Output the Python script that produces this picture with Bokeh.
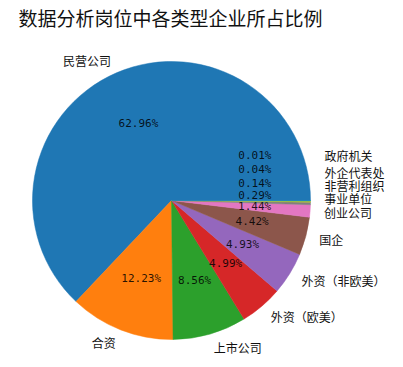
import numpy as np
from bokeh.plotting import figure
from bokeh.models import ColumnDataSource, Range1d
from bokeh.core.properties import value
from bokeh.embed import file_html
from bokeh.resources import INLINE

title_text = "数据分析岗位中各类型企业所占比例"
categories = ["民营公司", "合资", "上市公司", "外资（欧美）", "外资（非欧美）", "国企",
              "创业公司", "事业单位", "非营利组织", "外企代表处", "政府机关"]
shares = [62.96, 12.23, 8.56, 4.99, 4.93, 4.42, 1.44, 0.29, 0.14, 0.04, 0.01]

# style
colors = ["#1f77b4", "#ff7f0e", "#2ca02c", "#d62728", "#9467bd", "#8c564b",
          "#e377c2", "#7f7f7f", "#bcbd22", "#17becf", "#1f77b4"]
label_lift = [0, 0, 0, 0, 0, 0, 0, 5, 16, 28, 45]
pct_lift = [0, 0, 0, 0, 0, 0, 0, 6.5, 17.5, 31, 45]

W, H = 395, 359
CX, CY, R = 171, 167, 139

vals = np.array(shares, dtype=float)
frac = vals / vals.sum()
ends = np.cumsum(frac) * 2 * np.pi
starts = np.concatenate([[0.0], ends[:-1]])
mids = (starts + ends) / 2

wsrc = ColumnDataSource(dict(start=starts, end=ends, color=colors))

lx = CX + 1.1 * R * np.cos(mids)
ly = CY + 1.1 * R * np.sin(mids) + np.array(label_lift)
align = ["left" if np.cos(m) > 0 else "right" for m in mids]
lsrc = ColumnDataSource(dict(x=lx, y=ly, t=categories, a=align))

px = CX + 0.6 * R * np.cos(mids)
py = CY + 0.6 * R * np.sin(mids) + np.array(pct_lift)
ptxt = ["%.2f%%" % v for v in shares]
psrc = ColumnDataSource(dict(x=px, y=py, t=ptxt))

p = figure(width=W, height=H, output_backend="svg", toolbar_location=None,
           x_range=Range1d(0, W), y_range=Range1d(367 - H, 367),
           x_axis_type=None, y_axis_type=None, min_border=0)
p.grid.visible = False
p.outline_line_color = None
p.background_fill_color = "white"
p.border_fill_color = "white"

p.wedge(x=CX, y=CY, radius=R, start_angle="start", end_angle="end",
        fill_color="color", line_color="color", line_width=0.5, source=wsrc)

p.text(x="x", y="y", text="t", text_align="a", text_baseline="middle",
       text_font=value("Noto Sans CJK SC"), text_font_size="12px",
       text_color="#111111", source=lsrc)

p.text(x="x", y="y", text="t", text_align="center", text_baseline="middle",
       text_font=value("DejaVu Sans Mono"), text_font_size="11px",
       text_color="black", text_alpha=0.85, source=psrc)

p.text(x=[18], y=[367 - 17], text=[title_text], text_align="left",
       text_baseline="middle", text_font=value("Noto Sans CJK SC"),
       text_font_size="19px", text_color="#111111")

open("out.html", "w").write(file_html(p, INLINE))
